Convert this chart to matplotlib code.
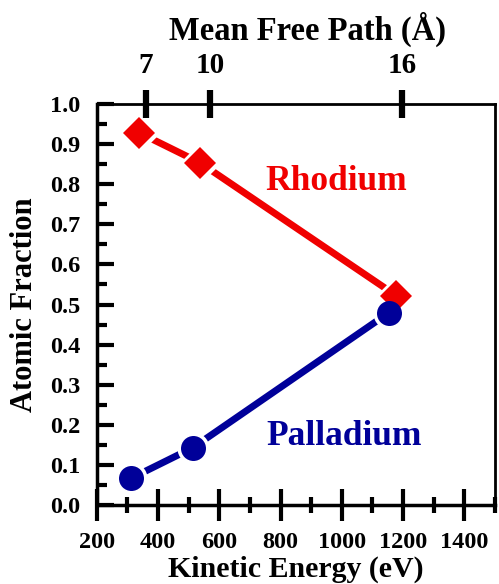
import matplotlib
matplotlib.use("Agg")
import matplotlib.pyplot as plt
from matplotlib.ticker import MultipleLocator, FormatStrFormatter

# Data
rh_energy = [339, 538, 1178]
rh_frac = [0.928, 0.853, 0.522]
pd_energy = [312, 513, 1154]
pd_frac = [0.067, 0.143, 0.48]
mfp_energy = [361, 571, 1197]
mfp_labels = ["7", "10", "16"]

plt.rcParams['font.family'] = ['Liberation Serif', 'DejaVu Serif']
plt.rcParams['font.weight'] = 'bold'

RED = '#f00000'
BLUE = '#000099'

fig = plt.figure(figsize=(4.99, 5.84), dpi=100)
ax = fig.add_axes([0.194, 0.135, 0.798, 0.687])

ax.plot(rh_energy, rh_frac, color=RED, lw=5, zorder=1, solid_capstyle='butt')
ax.plot(pd_energy, pd_frac, color=BLUE, lw=5, zorder=1, solid_capstyle='butt')
# white halos create the small gaps between lines and markers
ax.plot(rh_energy, rh_frac, ls='none', marker='D', ms=16, mfc='white', mec='white', mew=5, zorder=2)
ax.plot(pd_energy, pd_frac, ls='none', marker='o', ms=18, mfc='white', mec='white', mew=5, zorder=2)
ax.plot(rh_energy, rh_frac, ls='none', marker='D', ms=16, mfc=RED, mec=RED, mew=0, zorder=3)
ax.plot(pd_energy, pd_frac, ls='none', marker='o', ms=18, mfc=BLUE, mec=BLUE, mew=0, zorder=3)

ax.text(983, 0.785, 'Rhodium', color=RED, fontsize=25.5, fontweight='bold', ha='center', va='baseline')
ax.text(1007, 0.15, 'Palladium', color=BLUE, fontsize=25.5, fontweight='bold', ha='center', va='baseline')

ax.set_xlim(200, 1500)
ax.set_ylim(0.0, 1.0)
ax.xaxis.set_major_locator(MultipleLocator(200))
ax.xaxis.set_minor_locator(MultipleLocator(100))
ax.yaxis.set_major_locator(MultipleLocator(0.1))
ax.yaxis.set_minor_locator(MultipleLocator(0.05))
ax.yaxis.set_major_formatter(FormatStrFormatter('%.1f'))

ax.tick_params(axis='x', which='major', direction='inout', length=23, width=3, pad=8, labelsize=17.5, top=False)
ax.tick_params(axis='x', which='minor', direction='inout', length=11, width=3, top=False)
ax.tick_params(axis='y', which='major', direction='in', length=12, width=3, pad=12, labelsize=17.5, right=False)
ax.tick_params(axis='y', which='minor', direction='in', length=7, width=3, right=False)
for lab in ax.get_xticklabels() + ax.get_yticklabels():
    lab.set_fontweight('bold')

for s in ['left', 'bottom']:
    ax.spines[s].set_linewidth(2.5)
for s in ['top', 'right']:
    ax.spines[s].set_linewidth(2)

ax.set_xlabel('Kinetic Energy (eV)', fontsize=21.5, fontweight='bold', labelpad=1.5)
ax.set_ylabel('Atomic Fraction', fontsize=22, fontweight='bold', labelpad=8)

top = ax.twiny()
top.set_xlim(ax.get_xlim())
top.set_xticks(mfp_energy)
top.set_xticklabels(mfp_labels, fontweight='bold')
top.tick_params(axis='x', direction='inout', length=20, width=4.5, pad=8, labelsize=21)
top.set_xlabel('Mean Free Path (Å)', fontsize=23.5, fontweight='bold', labelpad=9)
top.xaxis.label.set_x(0.53)
for s in top.spines.values():
    s.set_visible(False)

fig.savefig('out.png', dpi=100)
